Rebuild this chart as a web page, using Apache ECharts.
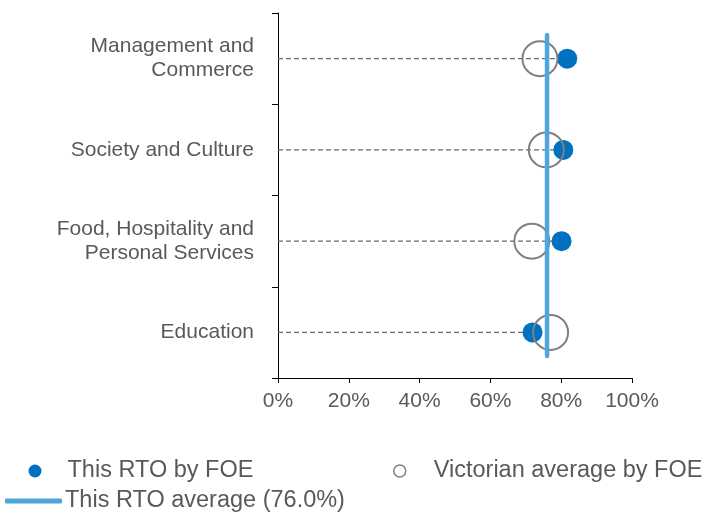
<!DOCTYPE html>
<html>
<head>
<meta charset="utf-8">
<script src="https://cdn.jsdelivr.net/npm/echarts@6/dist/echarts.min.js"></script>
<style>
html,body{margin:0;padding:0;background:#fff;}
#chart{width:707px;height:515px;}
</style>
</head>
<body>
<div id="chart"></div>
<script>
// Categories listed bottom to top (category axis order)
var categories = ['Education', 'Food, Hospitality and\nPersonal Services', 'Society and Culture', 'Management and\nCommerce'];
var rtoValues = [71.9, 80.1, 80.6, 81.7];
var vicValues = [77.0, 71.7, 75.8, 74.0];
var rtoAverage = 76.0;
var avgLineSpan = [-0.26, 3.26];
var xTicks = [0, 20, 40, 60, 80, 100];

var rtoName = 'This RTO by FOE';
var vicName = 'Victorian average by FOE';
var avgName = 'This RTO average (' + rtoAverage.toFixed(1) + '%)';

var chart = echarts.init(document.getElementById('chart'), null, {renderer: 'canvas'});
var font = '"Liberation Sans", Arial, sans-serif';
var textColor = '#595959';

var option = {
  animation: false,
  textStyle: {fontFamily: font},
  grid: {left: 278, right: 75, top: 13, bottom: 137, containLabel: false},
  xAxis: {
    type: 'value',
    min: xTicks[0], max: xTicks[xTicks.length - 1], interval: 20,
    axisLine: {show: true, onZero: false, lineStyle: {color: '#000', width: 1}},
    axisTick: {show: true, length: 5, lineStyle: {color: '#000'}},
    splitLine: {show: false},
    axisLabel: {formatter: '{value}%', color: textColor, fontSize: 21, margin: 13, fontFamily: font}
  },
  yAxis: [{
    type: 'category',
    data: categories,
    axisLine: {show: true, onZero: false, lineStyle: {color: '#000', width: 1}},
    axisTick: {show: true, length: 6, lineStyle: {color: '#000'}},
    axisLabel: {color: textColor, fontSize: 21, lineHeight: 24, margin: 24, align: 'right', fontFamily: font},
    splitLine: {show: false}
  }, {
    type: 'value', min: -0.5, max: 3.5, show: false
  }],
  legend: [{
    data: [{name: rtoName, icon: 'circle'}], left: 28.5, top: 459, padding: 0, itemWidth: 13, itemHeight: 13, itemGap: 0,
    textStyle: {color: textColor, fontSize: 23.5, fontFamily: font, padding: [0, 0, 0, 21]}
  }, {
    data: [{name: vicName, icon: 'circle'}], left: 393, top: 459, padding: 0, itemWidth: 12, itemHeight: 12, itemGap: 0,
    itemStyle: {borderWidth: 1.5, borderColor: '#808080', color: 'rgba(0,0,0,0)'},
    textStyle: {color: textColor, fontSize: 23.5, fontFamily: font, padding: [0, 0, 0, 23]}
  }, {
    data: [{name: avgName, icon: 'roundRect'}], left: 5, top: 489, padding: 0, itemWidth: 57, itemHeight: 5, itemGap: 0,
    textStyle: {color: textColor, fontSize: 23.5, fontFamily: font, padding: [0, 0, 0, -2]}
  }],
  series: [{
    type: 'custom',
    name: 'connectors',
    silent: true,
    z: 1,
    data: rtoValues.map(function (v, i) { return [v, i]; }),
    encode: {x: 0, y: 1},
    renderItem: function (params, api) {
      var start = api.coord([0, api.value(1)]);
      var end = api.coord([api.value(0), api.value(1)]);
      return {
        type: 'line',
        shape: {x1: start[0], y1: start[1], x2: end[0], y2: end[1]},
        style: {stroke: '#6b6b6b', lineWidth: 1.3, lineDash: [5, 3]}
      };
    }
  }, {
    type: 'scatter',
    name: rtoName,
    z: 2,
    symbol: 'circle',
    symbolSize: 20,
    itemStyle: {color: '#0070C0', opacity: 1},
    data: rtoValues.map(function (v, i) { return [v, i]; })
  }, {
    type: 'scatter',
    name: vicName,
    z: 3,
    symbol: 'circle',
    symbolSize: 35,
    itemStyle: {color: 'rgba(0,0,0,0)', borderColor: '#808080', borderWidth: 2, opacity: 1},
    data: vicValues.map(function (v, i) { return [v, i]; })
  }, {
    type: 'line',
    name: avgName,
    yAxisIndex: 1,
    z: 4,
    symbol: 'none',
    lineStyle: {color: '#4EA6DC', width: 4.5, cap: 'round'},
    itemStyle: {color: '#4EA6DC'},
    data: [[rtoAverage, avgLineSpan[0]], [rtoAverage, avgLineSpan[1]]]
  }]
};
chart.setOption(option);
</script>
</body>
</html>
